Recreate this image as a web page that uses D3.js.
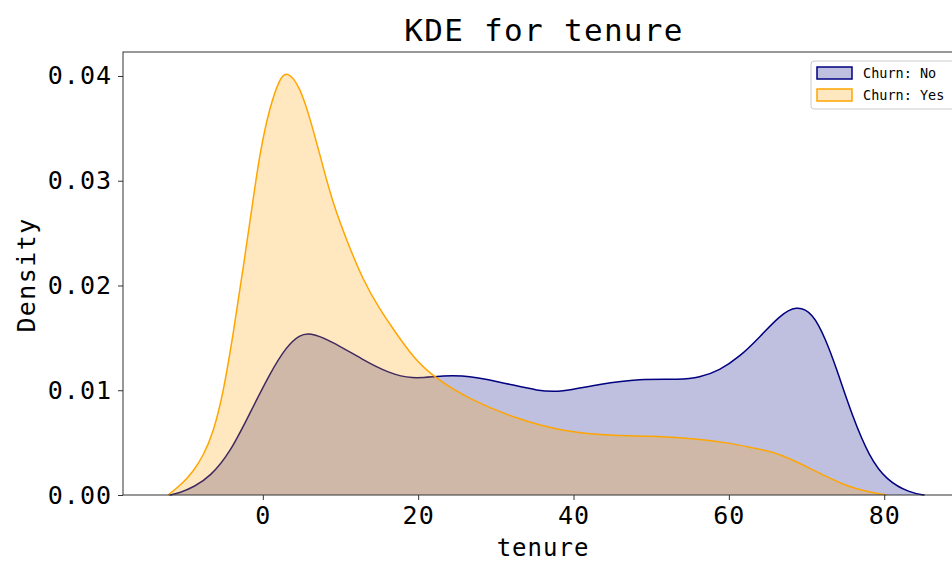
<!DOCTYPE html>
<html>
<head>
<meta charset="utf-8">
<script src="https://cdn.jsdelivr.net/npm/d3@7"></script>
<style>
  html, body { margin: 0; padding: 0; background: #fff; }
  svg { display: block; }
  text { font-family: "DejaVu Sans Mono", "Liberation Mono", monospace; fill: #000; }
</style>
</head>
<body>
<script>
// Kernel density estimates of tenure, split by churn status
const noTenure = [-12, -10.7, -8.8, -6.8, -4.25, -1.67, 0.9, 3.05, 4.76, 6.05, 8.6, 12.9, 16.3, 19.3, 21.9, 25.4, 30.5, 35.7, 38.2, 43.4, 48.5, 53.7, 56.2, 58.8, 61.4, 64.0, 66.5, 68.7, 70.8, 72.5, 73.8, 75.9, 78.1, 80.3, 83.3, 85.2];
const noDensity = [0, 0.0002, 0.0008, 0.00175, 0.0040, 0.0078, 0.0116, 0.0142, 0.0153, 0.0155, 0.0148, 0.0129, 0.0116, 0.0111, 0.0113, 0.0115, 0.0108, 0.0099, 0.0098, 0.0106, 0.0111, 0.0110, 0.0112, 0.0119, 0.0132, 0.0151, 0.0171, 0.0181, 0.0174, 0.0148, 0.0122, 0.0075, 0.0036, 0.0014, 0.0002, 0];

const yesTenure = [-12.2, -10.5, -9.0, -7.7, -6.4, -5.1, -3.8, -2.5, -1.25, -0.4, 0.9, 2.2, 3.05, 4.76, 6.3, 7.76, 9.05, 10.8, 12.9, 15.06, 17.2, 19.3, 21.9, 26.6, 33, 38, 43.4, 49.8, 53.7, 60, 63, 66.5, 70.8, 75.2, 78, 80.3];
const yesDensity = [0, 0.0010, 0.0022, 0.0037, 0.0059, 0.0097, 0.0154, 0.0218, 0.0282, 0.0326, 0.0371, 0.0398, 0.0405, 0.0391, 0.0354, 0.0313, 0.0278, 0.0243, 0.0205, 0.0177, 0.0154, 0.0132, 0.0113, 0.0091, 0.0072, 0.0062, 0.0057, 0.0056, 0.0055, 0.0050, 0.0045, 0.0040, 0.0024, 0.0008, 0.0003, 0];

const xTicks = [0, 20, 40, 60, 80];
const yTicks = [0, 0.01, 0.02, 0.03, 0.04];
const seriesNames = ["Churn: No", "Churn: Yes"];
const seriesColors = ["#000080", "#FFA500"];

const W = 952, H = 563;
const margin = { top: 52, left: 123, bottom: 68, right: -13 };
const iw = W - margin.left - margin.right;
const ih = H - margin.top - margin.bottom;

const svg = d3.select("body").append("svg").attr("width", W).attr("height", H);

const x = d3.scaleLinear().domain([-18, 90.4]).range([0, iw]);
const y = d3.scaleLinear().domain([0, 0.04229]).range([ih, 0]);

const g = svg.append("g").attr("transform", `translate(${margin.left},${margin.top})`);

const series = [
  { t: noTenure, d: noDensity },
  { t: yesTenure, d: yesDensity }
];

const curve = d3.curveBasis;
const area = d3.area().x(p => x(p[0])).y0(y(0)).y1(p => y(p[1])).curve(curve);
const line = d3.line().x(p => x(p[0])).y(p => y(p[1])).curve(curve);

series.forEach((s, i) => {
  const pts = s.t.map((t, k) => [t, s.d[k]]);
  g.append("path").attr("d", area(pts))
    .attr("fill", seriesColors[i]).attr("fill-opacity", 0.25);
  g.append("path").attr("d", line(pts))
    .attr("fill", "none").attr("stroke", seriesColors[i]).attr("stroke-width", 1.5);
});

// Axes frame
g.append("rect").attr("x", 0).attr("y", 0).attr("width", iw).attr("height", ih)
  .attr("fill", "none").attr("stroke", "#333").attr("stroke-width", 1);

const xAxis = g.append("g").attr("transform", `translate(0,${ih})`)
  .call(d3.axisBottom(x).tickValues(xTicks).tickSize(5).tickPadding(6).tickFormat(d3.format("d")));
const yAxis = g.append("g")
  .call(d3.axisLeft(y).tickValues(yTicks).tickSize(5).tickPadding(6).tickFormat(d3.format(".2f")));
[xAxis, yAxis].forEach(a => {
  a.select(".domain").remove();
  a.selectAll(".tick line").attr("stroke", "#333");
  a.selectAll("text").style("font-family", '"DejaVu Sans Mono", monospace')
    .style("font-size", "25px").style("letter-spacing", "1px").attr("fill", "#000");
});

// Titles
svg.append("text").attr("x", margin.left + iw / 2).attr("y", 41)
  .attr("text-anchor", "middle").style("font-size", "31px").style("letter-spacing", "1.3px")
  .text("KDE for tenure");
svg.append("text").attr("x", margin.left + iw / 2 - 1).attr("y", 556)
  .attr("text-anchor", "middle").style("font-size", "24px").style("letter-spacing", "1px")
  .text("tenure");
svg.append("text").attr("transform", "translate(35,275) rotate(-90)")
  .attr("text-anchor", "middle").style("font-size", "25px").style("letter-spacing", "1.4px")
  .text("Density");

// Legend
const lg = svg.append("g").attr("transform", "translate(811,61)");
lg.append("rect").attr("x", 0).attr("y", 0).attr("width", 160).attr("height", 48)
  .attr("rx", 3).attr("fill", "#fff").attr("fill-opacity", 0.8).attr("stroke", "#ccc");
seriesNames.forEach((name, i) => {
  const row = lg.append("g").attr("transform", `translate(6,${6 + i * 22})`);
  row.append("rect").attr("x", 0).attr("y", 0).attr("width", 35).attr("height", 12)
    .attr("fill", seriesColors[i]).attr("fill-opacity", 0.25)
    .attr("stroke", seriesColors[i]).attr("stroke-width", 1.5);
  row.append("text").attr("x", 46).attr("y", 11).style("font-size", "13.5px").text(name);
});
</script>
</body>
</html>
